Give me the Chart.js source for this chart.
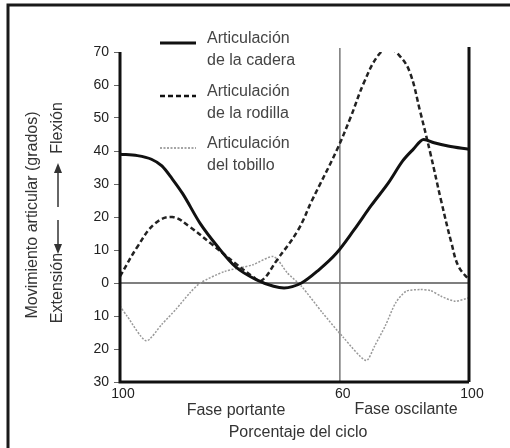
<!DOCTYPE html>
<html>
<head>
<meta charset="utf-8">
<script src="https://cdn.jsdelivr.net/npm/chart.js@4"></script>
<style>
  html, body { margin: 0; padding: 0; background: #fff; }
  #wrap { width: 510px; height: 448px; }
</style>
</head>
<body>
<div id="wrap"><canvas id="myChart" width="510" height="448"></canvas></div>
<script>
// datos
const hipX = [0, 5, 9, 12, 15, 18, 23, 28, 33, 39, 44, 47, 52, 57, 62, 67, 72, 77, 81, 84, 87, 90, 94, 100];
const hipY = [39, 38.6, 37.5, 35.5, 31.5, 27, 18, 11, 5, 1, -1, -1.5, 0, 4, 9, 16, 23.5, 30.5, 37, 40.5, 43.5, 42.5, 41.5, 40.5];

const kneeX = [0, 5, 10, 15, 20, 26, 33, 38, 40.5, 45, 51, 55, 62, 66, 70, 74, 77, 80, 83, 86, 89, 92, 95, 97, 100];
const kneeY = [2, 11, 18, 20, 17, 12, 6, 2, 0.7, 7, 16, 25, 40, 50, 61, 69, 71, 69, 64, 52, 39, 25, 12, 5, 1];

const ankleX = [0, 2, 7.5, 12, 16, 20, 23, 30, 38, 44, 48, 52, 58, 64, 70.5, 73, 76, 79, 82, 86, 89, 92, 96, 100];
const ankleY = [-7, -10, -17.5, -12.5, -8, -3, 0, 3.5, 5.5, 8, 3, -1, -9, -16.5, -23.5, -19, -13, -6, -2.5, -2, -2.3, -4, -5.5, -4.5];

const xTickValues = [0, 63, 100];
const xTickLabels = ["100", "60", "100"];
const yTickValues = [-30, -20, -10, 0, 10, 20, 30, 40, 50, 60, 70];
const swingStart = 63;

const legendLabels = [
  ["Articulación", "de la cadera"],
  ["Articulación", "de la rodilla"],
  ["Articulación", "del tobillo"],
];

const toPoints = (xs, ys) => xs.map((x, i) => ({ x: x, y: ys[i] }));

const FONT = "'Liberation Sans', Arial, sans-serif";

// Dibujos extra: marco, ejes, lineas de referencia, leyenda y textos
const extras = {
  id: "extras",
  beforeDatasetsDraw(chart) {
    const { ctx, chartArea: a, scales } = chart;
    const y0 = scales.y.getPixelForValue(0);
    const xv = scales.x.getPixelForValue(swingStart);
    ctx.save();
    ctx.strokeStyle = "#555";
    ctx.lineWidth = 1.5;
    ctx.beginPath();
    ctx.moveTo(a.left, y0);
    ctx.lineTo(a.right, y0);
    ctx.stroke();
    ctx.strokeStyle = "#777";
    ctx.beginPath();
    ctx.moveTo(xv, a.top - 4);
    ctx.lineTo(xv, a.bottom);
    ctx.stroke();
    ctx.restore();
  },
  afterDraw(chart) {
    const { ctx, chartArea: a } = chart;
    ctx.save();

    // marco exterior (solo arriba e izquierda)
    ctx.strokeStyle = "#1a1a1a";
    ctx.lineWidth = 3;
    ctx.beginPath();
    ctx.moveTo(510, 5);
    ctx.lineTo(8, 5);
    ctx.lineTo(8, 448);
    ctx.stroke();

    // ejes
    ctx.strokeStyle = "#111";
    ctx.lineWidth = 3;
    ctx.beginPath();
    ctx.moveTo(a.left, a.top);
    ctx.lineTo(a.left, a.bottom);
    ctx.lineTo(a.right, a.bottom);
    ctx.moveTo(a.right, a.top - 5);
    ctx.lineTo(a.right, a.bottom);
    ctx.stroke();

    // leyenda
    const lx1 = 160, lx2 = 196, tx = 207;
    const rows = [43, 96, 148];
    const styles = [
      { w: 3, dash: [], color: "#111" },
      { w: 2.5, dash: [5, 3], color: "#111" },
      { w: 1.5, dash: [2, 1.5], color: "#888" },
    ];
    ctx.font = "16px " + FONT;
    ctx.textBaseline = "middle";
    ctx.textAlign = "left";
    rows.forEach((ly, i) => {
      const s = styles[i];
      ctx.strokeStyle = s.color;
      ctx.lineWidth = s.w;
      ctx.setLineDash(s.dash);
      ctx.beginPath();
      ctx.moveTo(lx1, ly);
      ctx.lineTo(lx2, ly);
      ctx.stroke();
      ctx.setLineDash([]);
      ctx.fillStyle = "#444";
      ctx.fillText(legendLabels[i][0], tx, ly - 4);
      ctx.fillText(legendLabels[i][1], tx, ly + 18);
    });

    // textos eje x
    ctx.fillStyle = "#333";
    ctx.font = "16px " + FONT;
    ctx.textAlign = "center";
    ctx.fillText("Fase portante", 236, 411);
    ctx.fillText("Fase oscilante", 406, 410);
    ctx.fillText("Porcentaje del ciclo", 298, 433);

    // titulo eje y
    ctx.save();
    ctx.translate(33, 215);
    ctx.rotate(-Math.PI / 2);
    ctx.textAlign = "center";
    ctx.fillText("Movimiento articular (grados)", 0, 0);
    ctx.restore();

    ctx.save();
    ctx.translate(58, 0);
    ctx.rotate(-Math.PI / 2);
    ctx.textAlign = "center";
    ctx.fillText("Flexión", -128, 0);
    ctx.fillText("Extensión", -288, 0);
    ctx.restore();

    // flechas
    const arrow = (x, yTail, yHead) => {
      const dir = yHead < yTail ? -1 : 1;
      ctx.strokeStyle = "#333";
      ctx.fillStyle = "#333";
      ctx.lineWidth = 1.5;
      ctx.beginPath();
      ctx.moveTo(x, yTail);
      ctx.lineTo(x, yHead - dir * 8);
      ctx.stroke();
      ctx.beginPath();
      ctx.moveTo(x, yHead);
      ctx.lineTo(x - 4, yHead - dir * 10);
      ctx.lineTo(x + 4, yHead - dir * 10);
      ctx.closePath();
      ctx.fill();
    };
    arrow(58, 207, 163);
    arrow(58, 220, 254);

    ctx.restore();
  },
};

const ctx = document.getElementById("myChart");

new Chart(ctx, {
  type: "line",
  data: {
    datasets: [
      {
        label: "Articulación de la cadera",
        data: toPoints(hipX, hipY),
        borderColor: "#111",
        borderWidth: 3,
        tension: 0.4,
        cubicInterpolationMode: "monotone",
        pointRadius: 0,
      },
      {
        label: "Articulación de la rodilla",
        data: toPoints(kneeX, kneeY),
        borderColor: "#222",
        borderWidth: 2.5,
        borderDash: [5, 3],
        tension: 0.4,
        pointRadius: 0,
      },
      {
        label: "Articulación del tobillo",
        data: toPoints(ankleX, ankleY),
        borderColor: "#999",
        borderWidth: 1.5,
        borderDash: [2, 1.5],
        tension: 0.25,
        pointRadius: 0,
      },
    ],
  },
  options: {
    responsive: false,
    animation: false,
    layout: { padding: { left: 0, right: 41, top: 52, bottom: 0 } },
    plugins: {
      legend: { display: false },
      tooltip: { enabled: false },
    },
    scales: {
      x: {
        type: "linear",
        min: 0,
        max: 100,
        afterFit: (s) => { s.height = 66; },
        afterBuildTicks: (s) => { s.ticks = xTickValues.map((v) => ({ value: v })); },
        grid: { display: false, drawTicks: false },
        border: { display: false },
        ticks: {
          padding: 4,
          labelOffset: 3,
          color: "#222",
          font: { family: FONT, size: 14 },
          maxRotation: 0,
          autoSkip: false,
          callback: (v, i) => xTickLabels[i],
        },
      },
      y: {
        min: -30,
        max: 70,
        afterFit: (s) => { s.width = 120; },
        afterBuildTicks: (s) => { s.ticks = yTickValues.map((v) => ({ value: v })); },
        grid: { drawOnChartArea: false, tickLength: 6, color: "#666" },
        border: { display: false },
        ticks: {
          padding: 5,
          color: "#222",
          font: { family: FONT, size: 14 },
          callback: (v) => Math.abs(v),
        },
      },
    },
  },
  plugins: [extras],
});
</script>
</body>
</html>
